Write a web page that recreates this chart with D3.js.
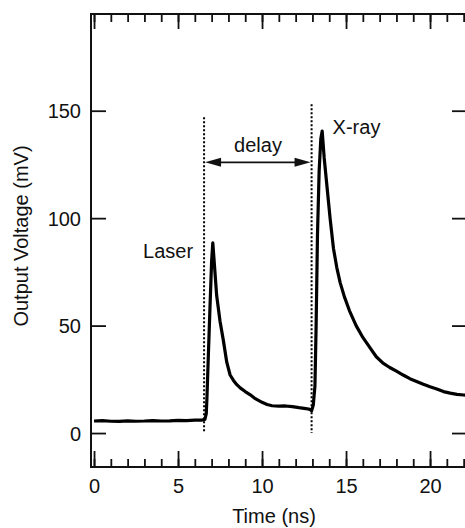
<!DOCTYPE html>
<html>
<head>
<meta charset="utf-8">
<script src="https://cdn.jsdelivr.net/npm/d3@7"></script>
<style>
  body { margin: 0; background: #fff; }
  text { font-family: "Liberation Sans", Arial, sans-serif; }
</style>
</head>
<body>
<div id="chart"></div>
<script>
// trace (ns, mV)
const timeNs = [0, 0.5, 1, 1.5, 2, 2.5, 3, 3.5, 4, 4.5, 5, 5.5, 6, 6.4, 6.6, 6.68, 6.72, 6.8, 6.9, 7.0,
  7.07, 7.15, 7.3, 7.5, 7.7, 7.9, 8.1, 8.3, 8.5, 8.7, 9.0, 9.3, 9.6, 10.0, 10.3, 10.6, 11.0, 11.4, 11.8,
  12.2, 12.6, 12.85, 12.95, 13.05, 13.15, 13.22, 13.3, 13.4, 13.5, 13.58, 13.7, 13.85, 14.05, 14.25,
  14.45, 14.65, 14.9, 15.2, 15.6, 16.0, 16.4, 16.8, 17.2, 17.6, 18.0, 18.4, 18.8, 19.2, 19.6, 20.0,
  20.4, 20.8, 21.2, 21.6, 22.0, 22.3];
const voltage = [5.6, 5.8, 5.5, 5.4, 5.7, 5.5, 5.6, 5.8, 5.6, 5.7, 5.9, 5.8, 6.0, 6.0, 6.3, 9, 16, 35, 58, 80,
  88.5, 80, 64, 52, 43, 33, 27, 24.5, 22.5, 21, 19.3, 17.8, 16, 14.3, 13.3, 12.7, 12.5, 12.6, 12.3,
  11.8, 11.4, 11, 10.3, 13, 22, 50, 92, 122, 137, 140.5, 128, 116, 100, 86,
  77, 70, 63.5, 57, 50, 44.5, 40, 35.5, 32.5, 30.5, 28.8, 27, 25.3, 24, 22.7, 21.5,
  20.5, 19.3, 18.6, 18, 17.7, 17.6];

const xMajorTicks = [0, 5, 10, 15, 20];
const xMinorTicks = d3.range(0, 23, 1);
const yTicks = [0, 50, 100, 150];

// dotted markers and annotations
const markerTimes = [6.55, 12.95];
const markerTops = [147, 153];
const labels = ["Laser", "delay", "X-ray"];

const w = 465, h = 528;
const frame = {left: 91, right: 467, top: 14, bottom: 467};

const x = d3.scaleLinear().domain([-0.18, 22.2]).range([frame.left, frame.right]);
const y = d3.scaleLinear().domain([-15.8, 195]).range([frame.bottom, frame.top]);

const svg = d3.select("#chart").append("svg")
  .attr("width", w)
  .attr("height", h);

svg.append("defs").append("clipPath").attr("id", "plot-clip")
  .append("rect")
  .attr("x", frame.left).attr("y", frame.top)
  .attr("width", frame.right - frame.left).attr("height", frame.bottom - frame.top);

// bottom axis: minor then major (ticks pointing inward)
svg.append("g")
  .attr("transform", `translate(0, ${frame.bottom})`)
  .call(d3.axisBottom(x).tickValues(xMinorTicks).tickSizeInner(-8).tickSizeOuter(0).tickFormat(""));
svg.append("g")
  .attr("class", "xlab")
  .attr("transform", `translate(0, ${frame.bottom})`)
  .call(d3.axisBottom(x).tickValues(xMajorTicks).tickSizeInner(-16).tickSizeOuter(0).tickPadding(12).tickFormat(d3.format("d")));

// top axis
svg.append("g")
  .attr("transform", `translate(0, ${frame.top})`)
  .call(d3.axisTop(x).tickValues(xMinorTicks).tickSizeInner(-8).tickSizeOuter(0).tickFormat(""));
svg.append("g")
  .attr("transform", `translate(0, ${frame.top})`)
  .call(d3.axisTop(x).tickValues(xMajorTicks).tickSizeInner(-15).tickSizeOuter(0).tickFormat(""));

// left / right axes
svg.append("g")
  .attr("class", "ylab")
  .attr("transform", `translate(${frame.left}, 0)`)
  .call(d3.axisLeft(y).tickValues(yTicks).tickSizeInner(-15).tickSizeOuter(0).tickPadding(10).tickFormat(d3.format("d")));
svg.append("g")
  .attr("transform", `translate(${frame.right}, 0)`)
  .call(d3.axisRight(y).tickValues(yTicks).tickSizeInner(-15).tickSizeOuter(0).tickFormat(""));

svg.selectAll(".domain").remove();
svg.selectAll(".tick line").attr("stroke", "#111").attr("stroke-width", 1.8);
svg.selectAll(".tick text").attr("fill", "#111").style("font-size", "20px");
svg.selectAll(".ylab .tick text").attr("dy", "0.36em");
svg.selectAll(".xlab .tick text").attr("dy", "0.71em");

// frame
svg.append("rect")
  .attr("x", frame.left).attr("y", frame.top)
  .attr("width", frame.right - frame.left).attr("height", frame.bottom - frame.top)
  .attr("fill", "none")
  .attr("stroke", "#111")
  .attr("stroke-width", 2);

// axis titles
svg.append("text")
  .attr("x", 274).attr("y", 523)
  .attr("text-anchor", "middle")
  .style("font-size", "20px")
  .attr("fill", "#111")
  .text("Time (ns)");

svg.append("text")
  .attr("transform", "translate(28, 236) rotate(-90)")
  .attr("text-anchor", "middle")
  .style("font-size", "20px")
  .attr("fill", "#111")
  .text("Output Voltage (mV)");

const plot = svg.append("g").attr("clip-path", "url(#plot-clip)");

// dotted vertical lines
markerTimes.forEach(function(t, i) {
  plot.append("line")
    .attr("x1", x(t)).attr("x2", x(t))
    .attr("y1", y(markerTops[i])).attr("y2", y(0))
    .attr("stroke", "#000")
    .attr("stroke-width", 2)
    .attr("stroke-dasharray", "2,2");
});

// delay arrow
const arrowY = y(126);
const ax1 = x(markerTimes[0]) + 1, ax2 = x(markerTimes[1]) - 1;
plot.append("line")
  .attr("x1", ax1 + 12).attr("x2", ax2 - 12)
  .attr("y1", arrowY).attr("y2", arrowY)
  .attr("stroke", "#111")
  .attr("stroke-width", 1.8);
plot.append("path")
  .attr("d", `M${ax1},${arrowY} L${ax1 + 16},${arrowY - 4.5} L${ax1 + 16},${arrowY + 4.5} Z`)
  .attr("fill", "#111");
plot.append("path")
  .attr("d", `M${ax2},${arrowY} L${ax2 - 16},${arrowY - 4.5} L${ax2 - 16},${arrowY + 4.5} Z`)
  .attr("fill", "#111");

// the trace
const data = timeNs.map((t, i) => ({t: t, v: voltage[i]}));
plot.append("path")
  .datum(data)
  .attr("d", d3.line().x(d => x(d.t)).y(d => y(d.v)))
  .attr("fill", "none")
  .attr("stroke", "#000")
  .attr("stroke-width", 3.2)
  .attr("stroke-linejoin", "round");

// annotations
svg.append("text")
  .attr("x", x(5.9)).attr("y", y(81.5))
  .attr("text-anchor", "end")
  .style("font-size", "20px")
  .attr("fill", "#111")
  .text(labels[0]);
svg.append("text")
  .attr("x", x(9.76)).attr("y", y(131))
  .attr("text-anchor", "middle")
  .style("font-size", "20px")
  .attr("fill", "#111")
  .text(labels[1]);
svg.append("text")
  .attr("x", x(14.2)).attr("y", y(139))
  .attr("text-anchor", "start")
  .style("font-size", "20px")
  .attr("fill", "#111")
  .text(labels[2]);
</script>
</body>
</html>
